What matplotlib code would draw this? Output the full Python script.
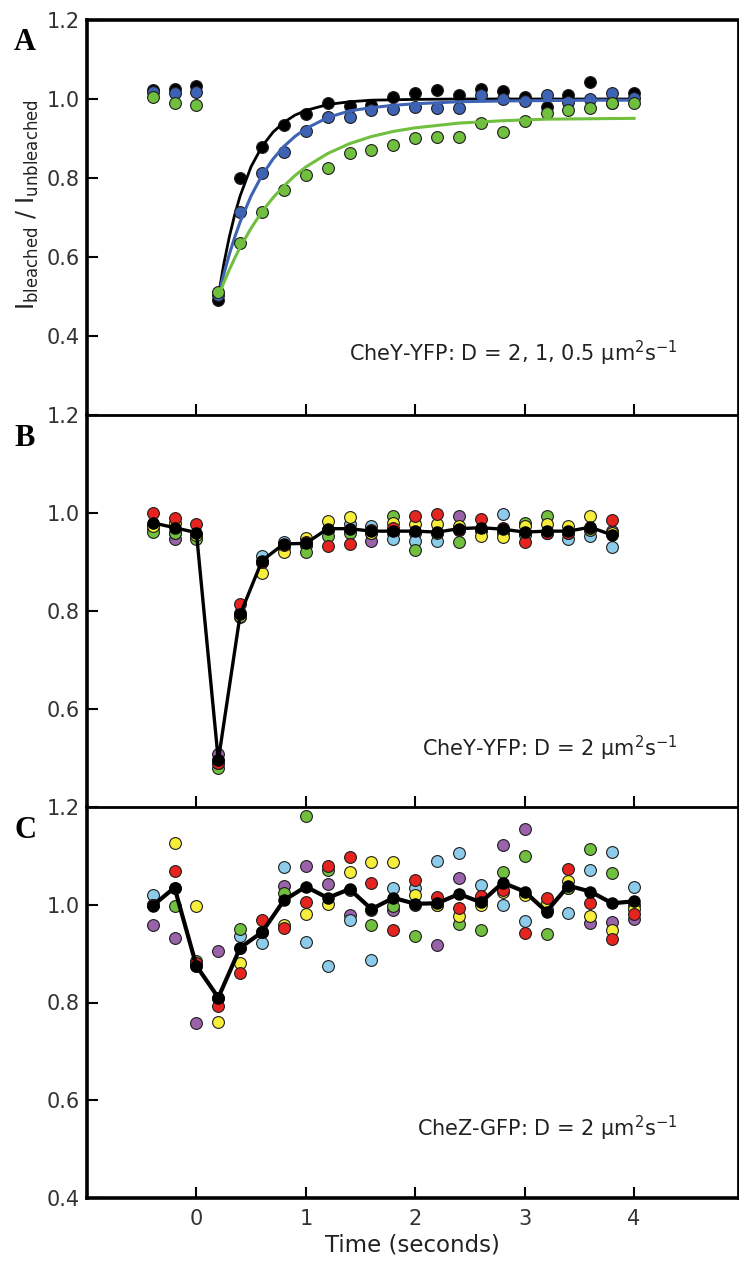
import matplotlib
matplotlib.use("Agg")
import matplotlib.pyplot as plt

plt.rcParams["font.family"] = ["DejaVu Sans"]
plt.rcParams["mathtext.fontset"] = "dejavusans"

# Panel A: FRAP recovery, CheY-YFP at three diffusion constants
time_a = [-0.4, -0.2, 0.0, 0.2, 0.4, 0.6, 0.8, 1.0, 1.2, 1.4, 1.6, 1.8,
          2.0, 2.2, 2.4, 2.6, 2.8, 3.0, 3.2, 3.4, 3.6, 3.8, 4.0]
a_black = [1.022, 1.025, 1.033, 0.490, 0.799, 0.879, 0.934, 0.961, 0.989, 0.982, 0.985, 1.004,
           1.016, 1.023, 1.010, 1.025, 1.019, 1.004, 0.980, 1.010, 1.044, 0.991, 1.016]
a_blue = [1.018, 1.014, 1.018, 0.504, 0.715, 0.812, 0.867, 0.920, 0.954, 0.954, 0.972, 0.974,
          0.980, 0.976, 0.976, 1.010, 0.999, 0.996, 1.010, 0.993, 0.999, 1.014, 1.002]
a_green = [1.004, 0.989, 0.985, 0.512, 0.635, 0.715, 0.770, 0.808, 0.825, 0.863, 0.871, 0.883,
           0.902, 0.905, 0.905, 0.938, 0.917, 0.944, 0.965, 0.972, 0.978, 0.990, 0.991]

# fitted curves
fit_t = [0.2, 0.25, 0.3, 0.35, 0.4, 0.5, 0.6, 0.7, 0.8, 0.9, 1.0, 1.2, 1.4, 1.6,
         1.8, 2.0, 2.4, 2.8, 3.2, 3.6, 4.0]
fit_black = [0.500, 0.582, 0.650, 0.707, 0.755, 0.829, 0.880, 0.916, 0.941, 0.959, 0.971, 0.986,
             0.993, 0.997, 0.998, 0.999, 1.000, 1.000, 1.000, 1.000, 1.000]
fit_blue = [0.500, 0.556, 0.606, 0.650, 0.689, 0.755, 0.807, 0.848, 0.880, 0.905, 0.925, 0.953,
            0.970, 0.978, 0.984, 0.988, 0.993, 0.995, 0.996, 0.997, 0.997]
fit_green = [0.500, 0.535, 0.567, 0.597, 0.625, 0.673, 0.715, 0.750, 0.780, 0.806, 0.828, 0.862,
             0.887, 0.905, 0.918, 0.927, 0.939, 0.945, 0.949, 0.950, 0.951]

# Panel B: CheY-YFP, five cells and their mean
time_b = [-0.4, -0.2, 0.0, 0.2, 0.4, 0.6, 0.8, 1.0, 1.2, 1.4, 1.6, 1.8,
          2.0, 2.2, 2.4, 2.6, 2.8, 3.0, 3.2, 3.4, 3.6, 3.8]
b_red = [1.000, 0.990, 0.977, 0.490, 0.815, 0.900, 0.935, 0.940, 0.933, 0.937, 0.965, 0.970,
         0.993, 0.997, 0.965, 0.988, 0.970, 0.941, 0.960, 0.960, 0.970, 0.985]
b_yellow = [0.973, 0.980, 0.955, 0.490, 0.790, 0.877, 0.920, 0.950, 0.983, 0.991, 0.960, 0.980,
            0.977, 0.977, 0.973, 0.953, 0.952, 0.973, 0.977, 0.973, 0.993, 0.960]
b_green = [0.961, 0.960, 0.947, 0.479, 0.790, 0.900, 0.930, 0.921, 0.953, 0.960, 0.960, 0.993,
           0.925, 0.960, 0.941, 0.965, 0.960, 0.980, 0.993, 0.960, 0.965, 0.958]
b_purple = [0.970, 0.947, 0.955, 0.508, 0.787, 0.900, 0.935, 0.935, 0.965, 0.965, 0.943, 0.960,
            0.960, 0.960, 0.993, 0.965, 0.965, 0.960, 0.960, 0.960, 0.965, 0.963]
b_cyan = [0.975, 0.960, 0.955, 0.495, 0.795, 0.913, 0.940, 0.935, 0.965, 0.977, 0.973, 0.947,
          0.943, 0.943, 0.965, 0.965, 0.997, 0.955, 0.960, 0.947, 0.953, 0.930]
b_mean = [0.980, 0.970, 0.960, 0.495, 0.793, 0.903, 0.937, 0.938, 0.968, 0.968, 0.963, 0.963,
          0.963, 0.961, 0.968, 0.970, 0.967, 0.961, 0.963, 0.963, 0.971, 0.955]

# Panel C: CheZ-GFP, five cells and their mean
time_c = time_a
c_red = [1.000, 1.070, 0.880, 0.792, 0.860, 0.969, 0.953, 1.005, 1.079, 1.098, 1.044, 0.948,
         1.051, 1.016, 0.993, 1.017, 1.030, 0.942, 1.014, 1.073, 1.003, 0.930, 0.982]
c_yellow = [1.000, 1.127, 0.998, 0.761, 0.880, 0.945, 0.959, 0.982, 1.002, 1.068, 1.088, 1.088,
            1.020, 1.000, 0.978, 1.000, 1.027, 1.020, 1.003, 1.049, 0.978, 0.948, 0.991]
c_green = [1.000, 0.998, 0.885, 0.810, 0.950, 0.945, 1.024, 1.182, 1.071, 1.030, 0.959, 0.997,
           0.936, 1.000, 0.961, 0.949, 1.068, 1.100, 0.941, 1.035, 1.115, 1.064, 1.000]
c_purple = [0.959, 0.932, 0.758, 0.905, 0.912, 0.945, 1.039, 1.079, 1.043, 0.980, 0.990, 0.990,
            1.000, 0.917, 1.054, 1.010, 1.122, 1.156, 0.990, 1.035, 0.963, 0.964, 0.971]
c_cyan = [1.020, 1.035, 0.875, 0.810, 0.936, 0.922, 1.078, 0.923, 0.875, 0.969, 0.887, 1.035,
          1.034, 1.090, 1.106, 1.041, 1.000, 0.966, 0.990, 0.984, 1.071, 1.108, 1.037]
c_mean = [0.998, 1.035, 0.875, 0.810, 0.912, 0.944, 1.009, 1.037, 1.014, 1.032, 0.991, 1.014,
          1.002, 1.003, 1.022, 1.005, 1.045, 1.027, 0.986, 1.039, 1.027, 1.003, 1.007]

BLUE = "#3f63b4"
GREEN = "#70bf3e"
RED = "#e5231f"
YELLOW = "#f6ee3b"
PURPLE = "#9a62a8"
CYAN = "#8dcbea"
EDGE = "#1e1e1e"
MS = 8.5

W, H = 739, 1268
fig = plt.figure(figsize=(W / 100, H / 100), dpi=100)


def add_panel(top, bottom):
    return fig.add_axes([87 / W, 1 - bottom / H, 651 / W, (bottom - top) / H])


def dots(ax, t, y, color, z=3):
    ax.plot(t, y, "o", ms=MS, mfc=color, mec=EDGE, mew=0.8, ls="none",
            zorder=z, clip_on=False)


ax_a = add_panel(20, 415)
ax_b = add_panel(415, 807)
ax_c = add_panel(807, 1198)

for ax in (ax_a, ax_b, ax_c):
    ax.set_xlim(-1, 4.95)
    ax.set_xticks([0, 1, 2, 3, 4])
    ax.tick_params(direction="in", length=8, width=1.5, labelsize=15,
                   labelcolor="#333333", pad=5)
    ax.spines["left"].set_linewidth(2.6)
    ax.spines["right"].set_linewidth(2.0)
    ax.spines["bottom"].set_linewidth(2.0)
    ax.spines["top"].set_linewidth(2.0)
    ax.patch.set_alpha(0)

ax_a.spines["top"].set_linewidth(2.6)
ax_b.spines["top"].set_visible(False)
ax_c.spines["top"].set_visible(False)
ax_c.spines["bottom"].set_linewidth(2.6)
ax_a.tick_params(axis="x", labelbottom=False)
ax_b.tick_params(axis="x", labelbottom=False)
ax_c.tick_params(axis="x", pad=8)

# panel A
ax_a.set_ylim(0.2, 1.2)
ax_a.set_yticks([0.4, 0.6, 0.8, 1.0, 1.2])
ax_a.set_yticklabels(["0.4", "0.6", "0.8", "1.0", "1.2"])
dots(ax_a, time_a, a_black, "black", 3)
ax_a.plot(fit_t, fit_black, color="black", lw=2.0, zorder=4)
dots(ax_a, time_a, a_blue, BLUE, 5)
ax_a.plot(fit_t, fit_blue, color=BLUE, lw=2.2, zorder=6)
dots(ax_a, time_a, a_green, GREEN, 7)
ax_a.plot(fit_t, fit_green, color=GREEN, lw=2.2, zorder=8)
ax_a.text(4.4, 0.357, "CheY-YFP: D = 2, 1, 0.5 μm$^{2}$s$^{-1}$", ha="right",
          va="center", fontsize=15, color="#222222")

# panel B
ax_b.set_ylim(0.4, 1.2)
ax_b.set_yticks([0.6, 0.8, 1.0, 1.2])
ax_b.set_yticklabels(["0.6", "0.8", "1.0", "1.2"])
for vals, col in [(b_purple, PURPLE), (b_cyan, CYAN), (b_green, GREEN),
                  (b_yellow, YELLOW), (b_red, RED)]:
    dots(ax_b, time_b, vals, col, 3)
ax_b.plot(time_b, b_mean, "o-", color="black", lw=2.4, ms=MS - 0.5, zorder=6)
ax_b.text(4.4, 0.52, "CheY-YFP: D = 2 μm$^{2}$s$^{-1}$", ha="right",
          va="center", fontsize=15, color="#222222")

# panel C
ax_c.set_ylim(0.4, 1.2)
ax_c.set_yticks([0.4, 0.6, 0.8, 1.0, 1.2])
ax_c.set_yticklabels(["0.4", "0.6", "0.8", "1.0", "1.2"])
for vals, col in [(c_purple, PURPLE), (c_cyan, CYAN), (c_green, GREEN),
                  (c_yellow, YELLOW), (c_red, RED)]:
    dots(ax_c, time_c, vals, col, 3)
ax_c.plot(time_c, c_mean, "o-", color="black", lw=3.0, ms=MS - 0.5, zorder=6)
ax_c.text(4.4, 0.542, "CheZ-GFP: D = 2 μm$^{2}$s$^{-1}$", ha="right",
          va="center", fontsize=15, color="#222222")
ax_c.set_xlabel("Time (seconds)", fontsize=16.5, color="#222222", labelpad=3)

# y label and panel letters
fig.text(28 / W, 1 - 205 / H,
         r"I$_{\mathregular{bleached}}$ / I$_{\mathregular{unbleached}}$",
         rotation=90, ha="center", va="center", fontsize=17, color="#222222")
for letter, y in [("A", 42), ("B", 438), ("C", 830)]:
    fig.text(25 / W, 1 - y / H, letter, fontfamily="Liberation Serif",
             fontweight="bold", fontsize=22, ha="center", va="center")

fig.savefig("out.png", dpi=100)
